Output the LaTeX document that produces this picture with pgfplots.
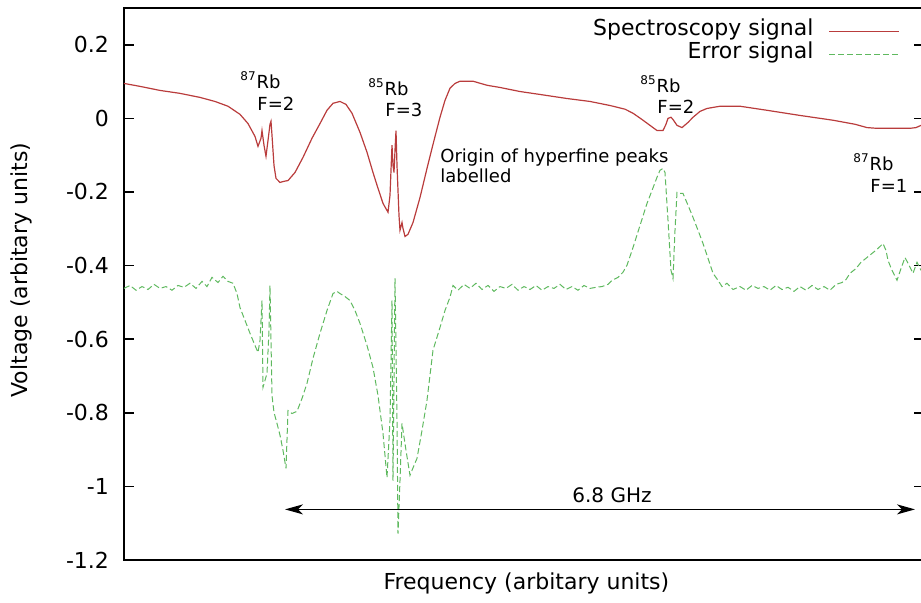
\documentclass[border=0pt]{standalone}
\usepackage{fontspec}
\setmainfont{DejaVu Sans}
\usepackage{pgfplots}
\pgfplotsset{compat=1.18}
\usetikzlibrary{arrows.meta}
\definecolor{specred}{RGB}{185,60,60}
\definecolor{errgreen}{RGB}{95,185,95}
\newcommand\annfont{\fontsize{9}{11}\selectfont}
\begin{document}
\begin{tikzpicture}
\begin{axis}[
  scale only axis,
  width=400pt, height=276pt,
  xmin=124, xmax=924,
  ymin=-1.2, ymax=0.3,
  xtick=\empty,
  ytick={-1.2,-1,-0.8,-0.6,-0.4,-0.2,0,0.2},
  yticklabels={-1.2,-1,-0.8,-0.6,-0.4,-0.2,0,0.2},
  tick align=inside,
  major tick length=5pt,
  every tick/.style={black, line width=0.8pt},
  axis line style={line width=1pt},
  tick label style={font=\fontsize{11}{13}\selectfont},
  yticklabel style={xshift=-4pt},
  label style={font=\fontsize{11}{13}\selectfont},
  xlabel={Frequency (arbitary units)},
  ylabel={Voltage (arbitary units)},
  xlabel style={at={(axis description cs:0.503,-0.042)}, anchor=center},
  ylabel style={at={(axis description cs:-0.128,0.525)}, anchor=center, rotate=0},
  legend cell align=right,
  legend plot pos=right,
  legend image code/.code={\draw[#1] (0pt,0pt) -- (35pt,0pt);},
  legend style={draw=none, fill=none, at={(axis cs:900,0.269)}, anchor=north east,
    inner sep=0pt, column sep=7.5pt, row sep=0pt,
    nodes={inner sep=0pt, text height=8pt, text depth=3.5pt},
    font=\fontsize{11}{13}\selectfont},
]
\addplot[specred, line width=0.6pt] coordinates {
(124,0.095) (140,0.087) (160,0.076) (180,0.068) (200,0.057) (215,0.046) (228,0.033) (240,0.011) (248,-0.014) (255,-0.049) (258,-0.076) (261,-0.054) (262,-0.033) (264,-0.073) (266,-0.103) (268,-0.060) (270,-0.016) (271,-0.008) (272,-0.046) (274,-0.128) (276,-0.163) (280,-0.174) (284,-0.171) (288,-0.169) (295,-0.147) (303,-0.106) (312,-0.054) (320,-0.014) (327,0.022) (333,0.041) (340,0.046) (346,0.038) (352,0.014) (360,-0.038) (367,-0.092) (373,-0.147) (378,-0.190) (383,-0.231) (388,-0.255) (390,-0.209) (392,-0.073) (393,-0.128) (394,-0.147) (395,-0.087) (396,-0.033) (397,-0.128) (399,-0.264) (400,-0.304) (402,-0.283) (403,-0.299) (405,-0.321) (408,-0.315) (413,-0.283) (420,-0.215) (427,-0.136) (434,-0.060) (440,0.003) (445,0.049) (450,0.082) (455,0.095) (460,0.101) (473,0.101) (487,0.090) (500,0.084) (520,0.073) (540,0.065) (567,0.054) (590,0.046) (610,0.035) (625,0.025) (633,0.014) (642,-0.003) (650,-0.019) (657,-0.033) (663,-0.033) (666,-0.016) (668,0.000) (671,0.003) (673,-0.003) (677,-0.019) (682,-0.025) (688,-0.011) (693,0.003) (700,0.019) (707,0.027) (720,0.033) (740,0.033) (767,0.022) (800,0.008) (833,-0.005) (855,-0.016) (867,-0.025) (877,-0.027) (890,-0.027) (910,-0.027) (916,-0.025) (921,-0.019)
};
\addlegendentry{Spectroscopy signal}
\addplot[errgreen, line width=0.5pt, dash pattern=on 3pt off 1.5pt] coordinates {
(124,-0.462) (130,-0.454) (136,-0.467) (142,-0.457) (148,-0.465) (154,-0.451) (160,-0.462) (166,-0.457) (172,-0.467) (178,-0.454) (184,-0.459) (190,-0.448) (196,-0.462) (202,-0.443) (207,-0.457) (212,-0.432) (218,-0.446) (223,-0.429) (228,-0.443) (233,-0.448) (237,-0.476) (240,-0.514) (245,-0.549) (250,-0.584) (255,-0.617) (258,-0.636) (260,-0.603) (262,-0.495) (263,-0.731) (265,-0.712) (267,-0.693) (269,-0.576) (270,-0.454) (272,-0.753) (274,-0.799) (277,-0.829) (280,-0.861) (283,-0.902) (286,-0.951) (288,-0.794) (292,-0.802) (297,-0.796) (302,-0.761) (307,-0.720) (313,-0.652) (320,-0.584) (327,-0.522) (333,-0.476) (337,-0.470) (340,-0.476) (345,-0.484) (350,-0.495) (355,-0.522) (360,-0.557) (367,-0.617) (373,-0.677) (378,-0.753) (383,-0.856) (387,-0.976) (390,-0.821) (392,-0.495) (393,-0.984) (395,-0.435) (397,-0.821) (398,-1.128) (400,-0.984) (402,-0.829) (406,-0.902) (410,-0.970) (414,-0.943) (417,-0.924) (422,-0.848) (427,-0.766) (433,-0.630) (440,-0.568) (445,-0.522) (450,-0.486) (453,-0.454) (458,-0.467) (464,-0.451) (470,-0.462) (476,-0.448) (482,-0.465) (488,-0.454) (494,-0.470) (500,-0.457) (506,-0.462) (512,-0.451) (518,-0.467) (524,-0.457) (530,-0.465) (536,-0.454) (542,-0.467) (548,-0.457) (554,-0.462) (560,-0.451) (566,-0.465) (572,-0.457) (578,-0.467) (584,-0.454) (590,-0.462) (596,-0.459) (602,-0.457) (608,-0.451) (612,-0.440) (618,-0.432) (623,-0.418) (627,-0.399) (633,-0.351) (640,-0.291) (647,-0.231) (652,-0.196) (657,-0.160) (660,-0.141) (663,-0.136) (665,-0.147) (668,-0.277) (671,-0.413) (673,-0.435) (675,-0.304) (677,-0.201) (680,-0.204) (683,-0.204) (688,-0.236) (693,-0.269) (698,-0.304) (703,-0.340) (708,-0.380) (713,-0.421) (718,-0.440) (722,-0.457) (727,-0.448) (733,-0.465) (740,-0.457) (746,-0.467) (752,-0.454) (758,-0.462) (764,-0.457) (770,-0.467) (776,-0.454) (782,-0.465) (788,-0.459) (794,-0.470) (800,-0.457) (806,-0.467) (812,-0.454) (818,-0.465) (824,-0.457) (830,-0.467) (836,-0.451) (842,-0.446) (846,-0.438) (850,-0.421) (856,-0.408) (861,-0.391) (867,-0.378) (872,-0.367) (877,-0.356) (883,-0.340) (886,-0.359) (888,-0.386) (892,-0.413) (897,-0.440) (901,-0.408) (905,-0.378) (909,-0.399) (913,-0.421) (917,-0.391) (921,-0.413)
};
\addlegendentry{Error signal}
% annotations
\node[anchor=base west, font=\annfont, inner sep=0pt] at (axis cs:240,0.0815) {\textsuperscript{87}Rb};
\node[anchor=base west, font=\annfont, inner sep=0pt] at (axis cs:257,0.0217) {F=2};
\node[anchor=base west, font=\annfont, inner sep=0pt] at (axis cs:368,0.0625) {\textsuperscript{85}Rb};
\node[anchor=base west, font=\annfont, inner sep=0pt] at (axis cs:385,0.0054) {F=3};
\node[anchor=base west, font=\annfont, inner sep=0pt] at (axis cs:640,0.0707) {\textsuperscript{85}Rb};
\node[anchor=base west, font=\annfont, inner sep=0pt] at (axis cs:657,0.0136) {F=2};
\node[anchor=base west, font=\annfont, inner sep=0pt] at (axis cs:853,-0.1413) {\textsuperscript{87}Rb};
\node[anchor=base west, font=\annfont, inner sep=0pt] at (axis cs:870,-0.2011) {F=1};
\node[anchor=base west, font=\annfont, inner sep=0pt] at (axis cs:440,-0.1196) {Origin of hyperfine peaks};
\node[anchor=base west, font=\annfont, inner sep=0pt] at (axis cs:440,-0.1739) {labelled};
\draw[black, line width=0.8pt, {Stealth[length=9pt,width=5pt,inset=2.5pt]}-{Stealth[length=9pt,width=5pt,inset=2.5pt]}] (axis cs:285,-1.0625) -- (axis cs:915,-1.0625);
\node[anchor=base, font=\fontsize{10}{12}\selectfont, inner sep=0pt] at (axis cs:612,-1.0435) {6.8 GHz};
\end{axis}
\pgfresetboundingbox
\path ([xshift=-62pt,yshift=-21.5pt]current axis.south west) rectangle ([xshift=-1.5pt,yshift=4pt]current axis.north east);
\end{tikzpicture}
\end{document}
